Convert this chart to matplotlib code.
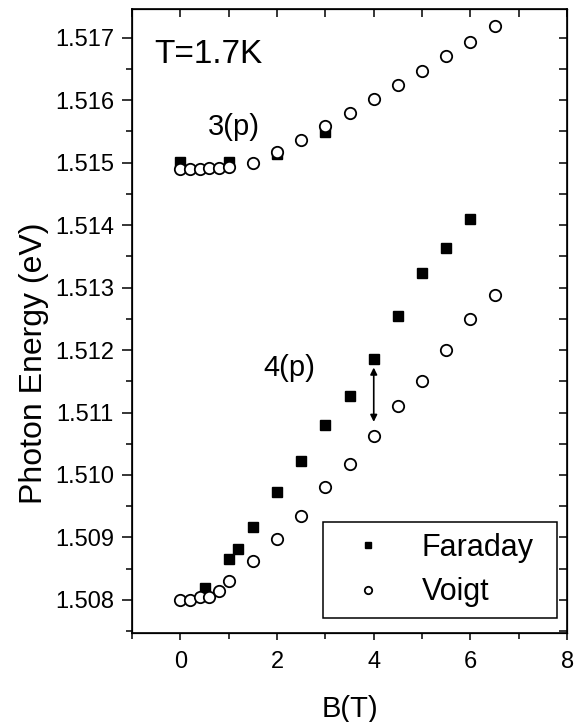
import matplotlib
matplotlib.use('Agg')
import matplotlib.pyplot as plt
from matplotlib.ticker import MultipleLocator

plt.rcParams['font.family'] = ['Liberation Sans', 'DejaVu Sans']

# 3(p) branch
far3_B = [0, 1.0, 2.0, 3.0]
far3_E = [1.51501, 1.51501, 1.51514, 1.51549]
voi3_B = [0, 0.2, 0.4, 0.6, 0.8, 1.0, 1.5, 2.0, 2.5, 3.0, 3.5, 4.0, 4.5, 5.0, 5.5, 6.0, 6.5]
voi3_E = [1.51490, 1.51490, 1.51490, 1.51491, 1.51492, 1.51493, 1.51500, 1.51517, 1.51537,
          1.51559, 1.51580, 1.51602, 1.51625, 1.51647, 1.51670, 1.51694, 1.51719]

# 4(p) branch
far4_B = [0.5, 1.0, 1.2, 1.5, 2.0, 2.5, 3.0, 3.5, 4.0, 4.5, 5.0, 5.5, 6.0]
far4_E = [1.50819, 1.50866, 1.50882, 1.50917, 1.50973, 1.51023, 1.51080, 1.51126,
          1.51186, 1.51254, 1.51324, 1.51364, 1.51410]
voi4_B = [0, 0.2, 0.4, 0.6, 0.8, 1.0, 1.5, 2.0, 2.5, 3.0, 3.5, 4.0, 4.5, 5.0, 5.5, 6.0, 6.5]
voi4_E = [1.50800, 1.50800, 1.50805, 1.50805, 1.50815, 1.50830, 1.50862, 1.50898, 1.50935,
          1.50981, 1.51018, 1.51063, 1.51111, 1.51151, 1.51200, 1.51249, 1.51288]

# splitting arrow at B=4
arrow_B = 4.0
arrow_E = [1.51172, 1.51085]

fig = plt.figure(figsize=(5.74, 7.22), dpi=100)
ax = fig.add_axes([0.23, 0.1233, 0.758, 0.8642])

sq = dict(marker='s', ms=7.5, color='black', linestyle='none')
ci = dict(marker='o', ms=8.2, mfc='white', mec='black', mew=1.3, linestyle='none')

ax.plot(far3_B, far3_E, **sq)
ax.plot(voi3_B, voi3_E, **ci)
ax.plot(far4_B, far4_E, label='Faraday', **sq)
ax.plot(voi4_B, voi4_E, label='Voigt', **ci)

ax.annotate('', xy=(arrow_B, arrow_E[0]), xytext=(arrow_B, arrow_E[1]),
            arrowprops=dict(arrowstyle='<|-|>', color='black', lw=1.2,
                            mutation_scale=10, shrinkA=0, shrinkB=0))

ax.text(-0.54, 1.5166, 'T=1.7K', fontsize=24, va='baseline')
ax.text(0.56, 1.51545, '3(p)', fontsize=21, va='baseline')
ax.text(1.71, 1.51159, '4(p)', fontsize=21, va='baseline')

ax.set_xlim(-1, 8)
ax.set_ylim(1.50747, 1.51746)
ax.xaxis.set_major_locator(MultipleLocator(2))
ax.xaxis.set_minor_locator(MultipleLocator(1))
ax.yaxis.set_major_locator(MultipleLocator(0.001))
ax.yaxis.set_minor_locator(MultipleLocator(0.0005))
ax.yaxis.set_major_formatter(matplotlib.ticker.FormatStrFormatter('%.3f'))

ax.tick_params(which='both', direction='out', labelsize=17, width=1.1)
ax.tick_params(axis='x', which='major', length=5, pad=8)
ax.tick_params(axis='y', which='major', length=7, pad=6)
ax.tick_params(which='minor', length=4)

for s in ax.spines.values():
    s.set_linewidth(1.2)

# inward ticks on top and right
axt = ax.twiny()
axt.set_xlim(ax.get_xlim())
axt.xaxis.set_major_locator(MultipleLocator(1))
axt.tick_params(direction='in', length=6, width=1.1, labeltop=False)
axr = ax.twinx()
axr.set_ylim(ax.get_ylim())
axr.yaxis.set_major_locator(MultipleLocator(0.0005))
axr.tick_params(direction='in', length=6, width=1.1, labelright=False)

ax.set_xlabel('B(T)', fontsize=21, labelpad=16)
ax.set_ylabel('Photon Energy (eV)', fontsize=23, va='center')
ax.yaxis.set_label_coords(-0.225, 0.433)

leg = ax.legend(loc='lower left', bbox_to_anchor=(0.439, 0.024, 0.538, 0.158),
                mode='expand', fontsize=22,
                frameon=True, fancybox=False, edgecolor='black', framealpha=1,
                borderpad=0.35, handlelength=2.24, handletextpad=0.64,
                labelspacing=0.48, markerscale=0.65, borderaxespad=0)
leg.get_frame().set_linewidth(1.1)

fig.savefig('out.png', dpi=100)
